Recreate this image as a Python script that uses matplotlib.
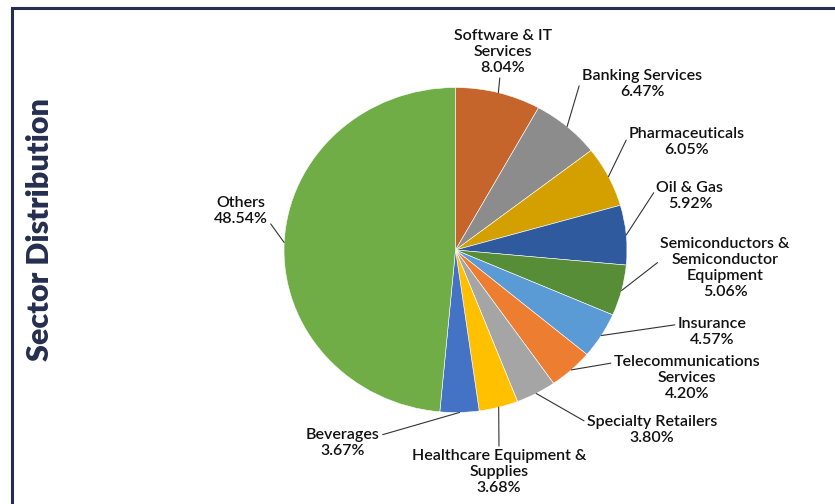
import numpy as np
import matplotlib.pyplot as plt
from matplotlib.lines import Line2D

plt.rcParams['font.family'] = ['Lato', 'DejaVu Sans']

# sector data (clockwise from 12 o'clock)
sectors = ["Software & IT\nServices", "Banking Services", "Pharmaceuticals", "Oil & Gas",
           "Semiconductors &\nSemiconductor\nEquipment", "Insurance",
           "Telecommunications\nServices", "Specialty Retailers",
           "Healthcare Equipment &\nSupplies", "Beverages", "Others"]
weights = [8.04, 6.47, 6.05, 5.92, 5.06, 4.57, 4.20, 3.80, 3.68, 3.67, 48.54]
colors = ["#C5652B", "#8C8C8C", "#D4A000", "#2F5A9E", "#568D36", "#5B9BD5",
          "#ED7D31", "#A5A5A5", "#FFC000", "#4472C4", "#70AD47"]

# label block centres in pixel coords (x from left, y from top)
label_pos = [(503, 52), (642, 84), (687, 142), (690, 196), (725, 268), (712, 332),
             (687, 378), (652, 430), (499, 472), (343, 443), (241, 211)]
# where the leader line meets each label block
leader_rel = [(0.47, 0), (0, 0.75), (0, 0.75), (0, 0.75), (0, 0.62), (0, 0.75),
              (0, 0.83), (0, 0.75), (0.5, 1), (1, 0.75), (1, 0.2)]

W, H = 835, 504
fig = plt.figure(figsize=(W / 100, H / 100), dpi=100)

# pie box in pixels: left 284, right 627, top 87.5, bottom 412.5 (slightly oval)
pl, pr, pt, pb = 284, 627, 87.5, 412.5
ax = fig.add_axes([pl / W, 1 - pb / H, (pr - pl) / W, (pb - pt) / H])
wedges, _ = ax.pie(weights, colors=colors, startangle=90, counterclock=False,
                   radius=1, wedgeprops=dict(edgecolor='white', linewidth=0.4))
ax.set_aspect('auto')
ax.set_xlim(-1, 1)
ax.set_ylim(-1, 1)
ax.axis('off')

for w, name, val, (lx, ly), rel in zip(wedges, sectors, weights, label_pos, leader_rel):
    ang = np.deg2rad((w.theta1 + w.theta2) / 2)
    ax.annotate(f"{name}\n{val:.2f}%", xy=(np.cos(ang), np.sin(ang)),
                xytext=(lx, H - ly), textcoords='figure pixels', annotation_clip=False,
                ha='center', va='center', fontsize=11.5, fontweight='semibold',
                linespacing=1.2, color='#111111',
                arrowprops=dict(arrowstyle='-', color='#333333', lw=0.8,
                                shrinkA=0, shrinkB=0, relpos=rel))

# vertical title
fig.text(40 / W, 1 - 230 / H, "Sector Distribution", rotation=90,
         ha='center', va='center', fontsize=22, fontweight='heavy', color='#262E4F')

# frame lines
fig.add_artist(Line2D([11.5 / W, 11.5 / W], [0, 1 - 8 / H], transform=fig.transFigure,
                      color='#262E4F', lw=2.2))
fig.add_artist(Line2D([11.5 / W, 1], [1 - 8 / H, 1 - 8 / H], transform=fig.transFigure,
                      color='#262E4F', lw=2.2))

fig.savefig("out.png", dpi=100)
